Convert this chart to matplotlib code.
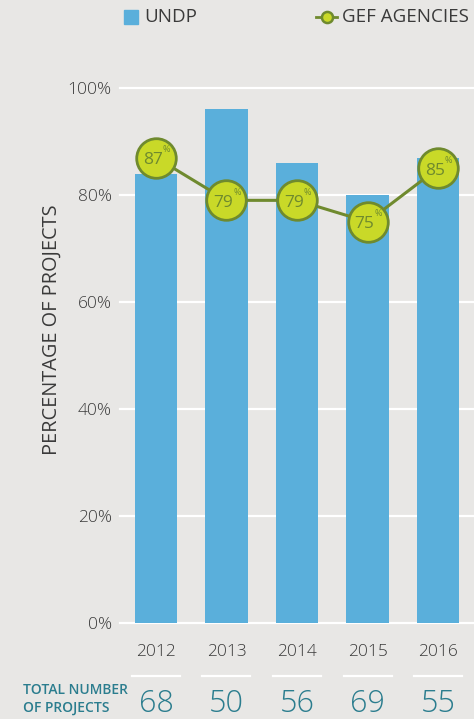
import matplotlib
matplotlib.use("Agg")
import matplotlib.pyplot as plt
from matplotlib.lines import Line2D
from matplotlib.patches import Rectangle

plt.rcParams['font.family'] = ['Open Sans', 'DejaVu Sans']

years = ["2012", "2013", "2014", "2015", "2016"]
undp = [84, 96, 86, 80, 87]
gef = [87, 79, 79, 75, 85]
totals = [68, 50, 56, 69, 55]
yticks = [0, 20, 40, 60, 80, 100]

BG = "#e8e7e5"
BLUE = "#5aafdb"
LIME = "#c9d928"
OLIVE = "#6f8a2e"
TEAL = "#2b7d8e"
GREY = "#3a3a3a"

W, H = 474, 719
fig = plt.figure(figsize=(W / 100, H / 100), dpi=100, facecolor=BG)

def fx(px):
    return px / W

def fy(py):
    return 1 - py / H

ax = fig.add_axes([fx(120), fy(623), fx(474) - fx(120), fy(88) - fy(623)])
ax.set_facecolor(BG)
x = list(range(len(years)))
ax.set_xlim(-0.51, 4.51)
ax.set_ylim(0, 100)

for t in yticks:
    ax.axhline(t, color="white", lw=1.6, zorder=1, clip_on=False)

ax.bar(x, undp, width=0.6, color=BLUE, zorder=2)
ax.plot(x, gef, color=OLIVE, lw=2.2, zorder=3, marker="o", markersize=28.5,
        markerfacecolor=LIME, markeredgecolor=OLIVE, markeredgewidth=2.0,
        clip_on=False)
for xi, v in zip(x, gef):
    ax.text(xi - 0.045, v - 0.5, f"{v}", ha="center", va="center",
            color=OLIVE, fontsize=12.5, zorder=4)
    ax.text(xi + 0.15, v + 1.5, "%", ha="center", va="center",
            color=OLIVE, fontsize=6.5, zorder=4)

ax.set_yticks(yticks)
ax.set_yticklabels([f"{t}%" for t in yticks], fontsize=12.5, color=GREY,
                   fontweight="light")
ax.tick_params(axis="y", length=0, pad=6)
ax.set_xticks([])
for s in ax.spines.values():
    s.set_visible(False)

fig.text(fx(52), fy(330), "PERCENTAGE OF PROJECTS", rotation=90, ha="center",
         va="center", fontsize=14.3, color=GREY)

# year labels, separators and project totals below the axis
for xi, yr, n in zip(x, years, totals):
    xd = ax.transData.transform((xi, 0))[0]
    xf = fig.transFigure.inverted().transform((xd, 0))[0]
    fig.text(xf, fy(652), yr, ha="center", va="center", fontsize=12.5,
             color=GREY, fontweight="light")
    fig.add_artist(Line2D([xf - fx(24), xf + fx(24)], [fy(676), fy(676)],
                          color="white", lw=1.6, transform=fig.transFigure))
    fig.text(xf, fy(704), f"{n}", ha="center", va="center", fontsize=22,
             color=TEAL, fontweight="light")

fig.text(fx(23), fy(690), "TOTAL NUMBER", ha="left", va="center",
         fontsize=10, color=TEAL, fontweight="semibold")
fig.text(fx(23), fy(708), "OF PROJECTS", ha="left", va="center",
         fontsize=10, color=TEAL, fontweight="semibold")

# legend
fig.add_artist(Rectangle((fx(124), fy(24)), fx(14), fy(10) - fy(24),
                         color=BLUE, transform=fig.transFigure))
fig.text(fx(144), fy(17), "UNDP", ha="left", va="center", fontsize=13.5,
         color=GREY)
fig.add_artist(Line2D([fx(316), fx(337)], [fy(17), fy(17)], color=OLIVE, lw=2,
                      transform=fig.transFigure))
fig.add_artist(Line2D([fx(326.5)], [fy(17)], color=OLIVE, marker="o",
                      markersize=8, markerfacecolor=LIME, markeredgecolor=OLIVE,
                      markeredgewidth=1.8, transform=fig.transFigure))
fig.text(fx(342), fy(17), "GEF AGENCIES", ha="left", va="center", fontsize=13.5,
         color=GREY)

fig.savefig("out.png", dpi=100, facecolor=BG)
